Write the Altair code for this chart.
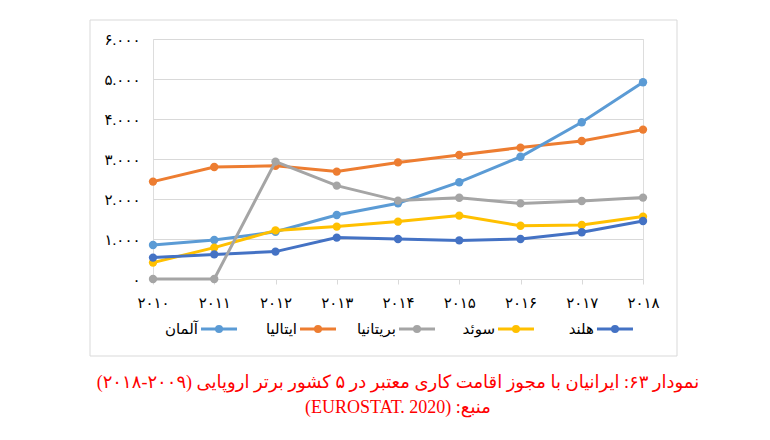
import altair as alt
import pandas as pd

# ---- data ----
years = ["۲۰۱۰", "۲۰۱۱", "۲۰۱۲", "۲۰۱۳", "۲۰۱۴", "۲۰۱۵", "۲۰۱۶", "۲۰۱۷", "۲۰۱۸"]

germany = [850, 975, 1180, 1600, 1895, 2420, 3055, 3920, 4920]       # آلمان
italy = [2435, 2800, 2830, 2685, 2915, 3100, 3285, 3450, 3735]       # ایتالیا
britain = [0, 0, 2935, 2335, 1960, 2030, 1890, 1950, 2035]           # بریتانیا
sweden = [410, 785, 1215, 1310, 1435, 1585, 1330, 1350, 1560]        # سوئد
netherlands = [535, 615, 685, 1035, 1000, 965, 1000, 1170, 1450]     # هلند

series_names = ["آلمان", "ایتالیا", "بریتانیا", "سوئد", "هلند"]
series_values = [germany, italy, britain, sweden, netherlands]
series_colors = ["#5B9BD5", "#ED7D31", "#A5A5A5", "#FFC000", "#4472C4"]
draw_order = ["ایتالیا", "آلمان", "سوئد", "هلند", "بریتانیا"]

y_tick_values = [0, 1000, 2000, 3000, 4000, 5000, 6000]
y_tick_labels = ["۰", "۱.۰۰۰", "۲.۰۰۰", "۳.۰۰۰", "۴.۰۰۰", "۵.۰۰۰", "۶.۰۰۰"]

caption = [
    "\u202Bنمودار ۶۳: ایرانیان با مجوز اقامت کاری معتبر در ۵ کشور برتر اروپایی (۲۰۰۹-۲۰۱۸)\u202C",
    "\u202Bمنبع: (EUROSTAT. 2020)\u202C",
]

# ---- tables ----
rows = []
for name, vals in zip(series_names, series_values):
    for yr, v in zip(years, vals):
        rows.append({"year": yr, "country": name, "value": v})
df = pd.DataFrame(rows)
legend_df = pd.DataFrame({"country": series_names})

FONT = "Liberation Serif, DejaVu Sans"
GRID = "#D9D9D9"

color_scale = alt.Scale(domain=series_names, range=series_colors)

label_expr = (
    "[" + ",".join(f"'{s}'" for s in y_tick_labels) + "]"
    + "[indexof([" + ",".join(str(v) for v in y_tick_values) + "], datum.value)]"
)

x_enc = alt.X(
    "year:N",
    sort=years,
    scale=alt.Scale(type="point", domain=years, padding=0),
    axis=alt.Axis(
        title=None, labelAngle=0, labelFont=FONT, labelFontSize=15, labelColor="#000000",
        domainColor=GRID, tickColor=GRID, tickSize=5, labelPadding=11, grid=False,
    ),
)
y_enc = alt.Y(
    "value:Q",
    scale=alt.Scale(domain=[0, 6000], nice=False),
    axis=alt.Axis(
        title=None, values=y_tick_values, labelExpr=label_expr, labelFont=FONT,
        labelFontSize=15, labelColor="#000000", domain=False, ticks=False,
        gridColor=GRID, labelPadding=13,
    ),
)
c_enc = alt.Color("country:N", scale=color_scale, legend=None)

series_layers = []
for name in draw_order:
    base = alt.Chart(df).transform_filter(alt.datum.country == name)
    series_layers.append(
        base.mark_line(strokeWidth=3).encode(x=x_enc, y=y_enc, color=c_enc)
    )
    series_layers.append(
        base.mark_point(filled=True, size=70, opacity=1).encode(x=x_enc, y=y_enc, color=c_enc)
    )
main = alt.layer(*series_layers)

# frame around the chart area
frame = alt.Chart(pd.DataFrame({"a": [0]})).mark_rect(
    fillOpacity=0, stroke=GRID, strokeWidth=1
).encode(
    x=alt.value(-63), x2=alt.value(524), y=alt.value(-19), y2=alt.value(317)
)

# legend (label with line-and-dot symbol on its right)
lx = alt.X(
    "country:N",
    sort=series_names,
    scale=alt.Scale(type="point", domain=series_names, padding=0.475),
    axis=None,
)
leg_base = alt.Chart(legend_df)
leg_text = leg_base.mark_text(
    align="right", baseline="middle", dx=-2, font=FONT, fontSize=15, color="#000000"
).encode(x=lx, y=alt.value(290), text="country:N")
leg_line = leg_base.mark_point(
    shape="stroke", size=1296, strokeWidth=3, filled=False, opacity=1, xOffset=19
).encode(x=lx, y=alt.value(290), color=c_enc)
leg_dot = leg_base.mark_point(
    shape="circle", filled=True, size=64, opacity=1, xOffset=19
).encode(x=lx, y=alt.value(290), color=c_enc)
legend = alt.layer(leg_text, leg_line, leg_dot)

chart = alt.layer(frame, main, legend).resolve_scale(x="independent").properties(
    width=490,
    height=240,
    autosize=alt.AutoSizeParams(type="none"),
    padding={"left": 145, "top": 31, "right": 115, "bottom": 153},
    title=alt.TitleParams(
        text=caption, orient="bottom", anchor="middle", frame="group",
        color="#FF0000", font=FONT, fontSize=18, fontWeight="normal",
        offset=17, lineHeight=25,
    ),
).configure_view(stroke=None).configure(background="white")

chart.save("out.html", embed_options={"renderer": "svg", "actions": False})
